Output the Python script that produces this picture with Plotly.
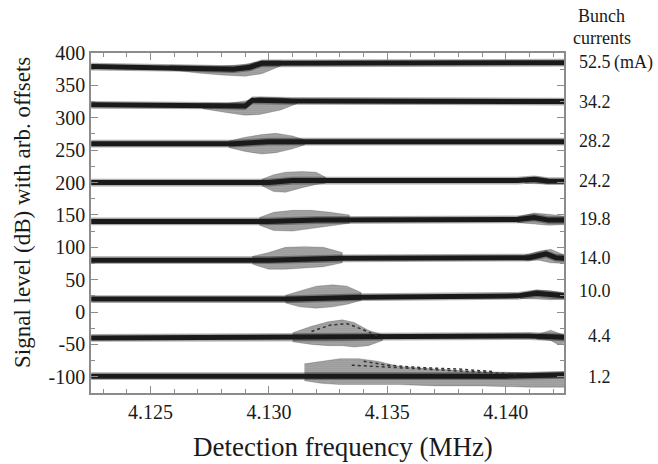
import plotly.graph_objects as go

# ---------------- data ----------------
current_labels = ["52.5", "34.2", "28.2", "24.2", "19.8", "14.0", "10.0", "4.4", "1.2"]
label_levels = [386, 324, 264, 203, 143, 84, 32, -37, -100]

x_tickvals = [4.125, 4.130, 4.135, 4.140]
x_ticktext = ["4.125", "4.130", "4.135", "4.140"]
y_tickvals = [-100, -50, 0, 50, 100, 150, 200, 250, 300, 350, 400]
y_ticktext = ["-100", "-50", "0", "50", "100", "150", "200", "250", "300", "350", "400"]

# 52.5 mA
c1_f = [4.1225, 4.1265, 4.1285, 4.1292, 4.1297, 4.1425]
c1_v = [379, 377, 375, 378, 384, 385]
s1_f = [4.1258, 4.1270, 4.1280, 4.1290, 4.1297, 4.1305]
s1_hi = [381, 381, 380, 382, 388, 388]
s1_lo = [374, 369, 366, 364, 368, 380]

# 34.2 mA
c2_f = [4.1225, 4.1280, 4.1290, 4.1293, 4.1310, 4.1425]
c2_v = [320, 319, 318, 327, 326, 325]
s2_f = [4.1272, 4.1282, 4.1290, 4.1296, 4.1305, 4.1312]
s2_hi = [322, 322, 326, 332, 331, 328]
s2_lo = [314, 308, 304, 305, 312, 322]

# 28.2 mA
c3_f = [4.1225, 4.1285, 4.1300, 4.1425]
c3_v = [260, 260, 263, 263]
s3_f = [4.1283, 4.1290, 4.1297, 4.1303, 4.1310, 4.1315]
s3_hi = [264, 270, 274, 276, 272, 266]
s3_lo = [254, 248, 244, 246, 252, 258]

# 24.2 mA
c4_f = [4.1225, 4.1300, 4.1310, 4.1405, 4.1412, 4.1418, 4.1425]
c4_v = [200, 200, 203, 203, 205, 202, 202]
s4_f = [4.1297, 4.1302, 4.1307, 4.1314, 4.1320, 4.1324]
s4_hi = [205, 212, 216, 217, 216, 208]
s4_lo = [195, 186, 185, 192, 197, 199]
b4_f = [4.1408, 4.1413, 4.1418]
b4_hi = [206, 209, 206]
b4_lo = [199, 198, 198]

# 19.8 mA
c5_f = [4.1225, 4.1300, 4.1320, 4.1405, 4.1412, 4.1418, 4.1425]
c5_v = [140, 140, 142, 143, 146, 142, 142]
s5_f = [4.1296, 4.1302, 4.1310, 4.1318, 4.1326, 4.1334]
s5_hi = [146, 154, 157, 157, 154, 150]
s5_lo = [134, 126, 125, 128, 133, 137]
b5_f = [4.1405, 4.1412, 4.1418, 4.1425]
b5_hi = [147, 153, 151, 148]
b5_lo = [138, 136, 134, 135]

# 14.0 mA
c6_f = [4.1225, 4.1300, 4.1330, 4.1410, 4.1417, 4.1421, 4.1425]
c6_v = [80, 80, 83, 84, 90, 84, 83]
s6_f = [4.1293, 4.1300, 4.1307, 4.1315, 4.1323, 4.1331]
s6_hi = [86, 92, 100, 101, 100, 92]
s6_lo = [74, 66, 66, 68, 70, 76]
b6_f = [4.1408, 4.1414, 4.1419, 4.1425]
b6_hi = [88, 94, 97, 88]
b6_lo = [80, 80, 76, 75]

# 10.0 mA
c7_f = [4.1225, 4.1310, 4.1340, 4.1405, 4.1413, 4.1420, 4.1425]
c7_v = [20, 20, 23, 25, 29, 26, 25]
s7_f = [4.1307, 4.1313, 4.1320, 4.1327, 4.1333, 4.1339]
s7_hi = [26, 33, 40, 42, 40, 30]
s7_lo = [14, 8, 6, 8, 12, 18]
b7_f = [4.1406, 4.1413, 4.1419, 4.1425]
b7_hi = [29, 34, 33, 29]
b7_lo = [21, 20, 19, 20]

# 4.4 mA
c8_f = [4.1225, 4.1330, 4.1345, 4.1410, 4.1425]
c8_v = [-40, -39, -38, -37, -39]
s8_f = [4.1310, 4.1318, 4.1325, 4.1331, 4.1336, 4.1342, 4.1348]
s8_hi = [-32, -22, -15, -12, -16, -28, -35]
s8_lo = [-46, -50, -52, -52, -54, -52, -44]
a8_f = [4.1318, 4.1326, 4.1333, 4.1339, 4.1346]
a8_v = [-30, -20, -18, -26, -37]
b8_f = [4.1413, 4.1419, 4.1422, 4.1425]
b8_hi = [-35, -28, -32, -36]
b8_lo = [-42, -44, -50, -48]

# 1.2 mA
c9_f = [4.1225, 4.1320, 4.1400, 4.1425]
c9_v = [-99, -99, -99, -97]
s9_f = [4.1315, 4.1322, 4.1330, 4.1338, 4.1346, 4.1355, 4.1370, 4.1390, 4.1410, 4.1425]
s9_hi = [-80, -76, -72, -72, -76, -84, -88, -92, -94, -92]
s9_lo = [-106, -110, -112, -112, -112, -112, -114, -114, -116, -116]
a9_f = [4.1335, 4.1345, 4.1360, 4.1375, 4.1390, 4.1405]
a9_v = [-82, -84, -87, -90, -93, -96]
a9b_f = [4.1340, 4.1350, 4.1365, 4.1380, 4.1395]
a9b_v = [-76, -82, -86, -88, -92]

cores = [(c1_f, c1_v), (c2_f, c2_v), (c3_f, c3_v), (c4_f, c4_v), (c5_f, c5_v),
         (c6_f, c6_v), (c7_f, c7_v), (c8_f, c8_v), (c9_f, c9_v)]
clouds = [(s1_f, s1_hi, s1_lo), (s2_f, s2_hi, s2_lo), (s3_f, s3_hi, s3_lo),
          (s4_f, s4_hi, s4_lo), (s5_f, s5_hi, s5_lo), (s6_f, s6_hi, s6_lo),
          (s7_f, s7_hi, s7_lo), (s8_f, s8_hi, s8_lo), (s9_f, s9_hi, s9_lo),
          (b4_f, b4_hi, b4_lo), (b5_f, b5_hi, b5_lo), (b6_f, b6_hi, b6_lo),
          (b7_f, b7_hi, b7_lo), (b8_f, b8_hi, b8_lo)]
arcs = [(a8_f, a8_v), (a9_f, a9_v), (a9b_f, a9b_v)]

# ---------------- figure ----------------
FONT = "Liberation Serif"
INK = "#1a1a1a"
BAND_HALF = 6  # dB, drawing half-width of the dense noise band

fig = go.Figure()

for f, hi, lo in clouds:
    fig.add_trace(go.Scatter(
        x=list(f) + list(f)[::-1], y=list(hi) + list(lo)[::-1],
        mode="lines", fill="toself", line=dict(width=0.6, color="rgba(0,0,0,0.3)"),
        fillcolor="rgba(0,0,0,0)",
        fillpattern=dict(shape=".", fgcolor="#111111", bgcolor="rgba(0,0,0,0.3)",
                         size=2, solidity=0.3),
        hoverinfo="skip", showlegend=False))

for f, v in cores:
    up = [a + BAND_HALF for a in v]
    dn = [a - BAND_HALF for a in v]
    fig.add_trace(go.Scatter(
        x=list(f) + list(f)[::-1], y=up + dn[::-1],
        mode="lines", fill="toself", line=dict(width=0),
        fillcolor="rgba(0,0,0,0)",
        fillpattern=dict(shape=".", fgcolor="#111111", bgcolor="rgba(0,0,0,0.25)",
                         size=2, solidity=0.3),
        hoverinfo="skip", showlegend=False))
    fig.add_trace(go.Scatter(x=f, y=v, mode="lines",
                             line=dict(color=INK, width=5),
                             hoverinfo="skip", showlegend=False))

for f, v in arcs:
    fig.add_trace(go.Scatter(x=f, y=v, mode="lines",
                             line=dict(color="#333333", width=1.5, dash="dot"),
                             hoverinfo="skip", showlegend=False))

AX = "#8c8c8c"
fig.update_xaxes(range=[4.12249, 4.14246], showline=True, linecolor=AX, linewidth=1.5,
                 mirror="ticks", ticks="inside", ticklen=7, tickcolor=AX, tickwidth=1,
                 tickmode="array", tickvals=x_tickvals, ticktext=x_ticktext,
                 minor=dict(dtick=0.001, tick0=4.125, ticks="inside", ticklen=4,
                            tickcolor=AX, showgrid=False),
                 showgrid=False, zeroline=False,
                 tickfont=dict(family=FONT, size=20, color=INK))
fig.update_yaxes(range=[-125, 400], showline=True, linecolor=AX, linewidth=1.5,
                 mirror="ticks", ticks="inside", ticklen=7, tickcolor=AX, tickwidth=1,
                 tickmode="array", tickvals=y_tickvals, ticktext=y_ticktext,
                 minor=dict(dtick=25, tick0=0, ticks="inside", ticklen=4,
                            tickcolor=AX, showgrid=False),
                 showgrid=False, zeroline=False,
                 tickfont=dict(family=FONT, size=20, color=INK))

L, R, T, B = 91, 94, 53, 71
W, H = 658, 464
pw, ph = W - L - R, H - T - B

def px_x(p):
    return (p - L) / pw

def px_y(p):
    return (H - B - p) / ph

ann = []
for lab, lev in zip(current_labels, label_levels):
    ann.append(dict(x=px_x(613), xref="paper", y=lev, yref="y", text=lab,
                    showarrow=False, xanchor="right", yanchor="middle",
                    font=dict(family=FONT, size=18, color=INK)))
ann.append(dict(x=px_x(612), xref="paper", y=label_levels[0], yref="y", text="(mA)",
                showarrow=False, xanchor="left", yanchor="middle",
                font=dict(family=FONT, size=18, color=INK)))
ann.append(dict(x=px_x(601), xref="paper", y=px_y(16), yref="paper", text="Bunch",
                showarrow=False, xanchor="center", yanchor="middle",
                font=dict(family=FONT, size=18, color=INK)))
ann.append(dict(x=px_x(602), xref="paper", y=px_y(38), yref="paper", text="currents",
                showarrow=False, xanchor="center", yanchor="middle",
                font=dict(family=FONT, size=18, color=INK)))
ann.append(dict(x=px_x(343), xref="paper", y=px_y(447), yref="paper",
                text="Detection frequency (MHz)", showarrow=False,
                xanchor="center", yanchor="middle",
                font=dict(family=FONT, size=27, color=INK)))
ann.append(dict(x=px_x(22), xref="paper", y=px_y(213), yref="paper",
                text="Signal level (dB) with arb. offsets", showarrow=False,
                textangle=-90, xanchor="center", yanchor="middle",
                font=dict(family=FONT, size=23, color=INK)))

fig.update_layout(width=W, height=H, margin=dict(l=L, r=R, t=T, b=B),
                  paper_bgcolor="white", plot_bgcolor="white",
                  font=dict(family=FONT, color=INK),
                  annotations=ann, showlegend=False)

fig.write_html("out.html")
